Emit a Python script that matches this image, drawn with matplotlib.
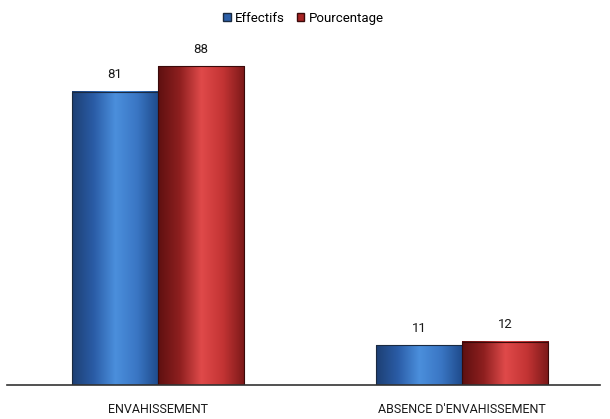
import numpy as np
import matplotlib
matplotlib.use("Agg")
import matplotlib.pyplot as plt
from matplotlib.colors import LinearSegmentedColormap
from matplotlib.patches import Patch

categories = ["ENVAHISSEMENT", "ABSENCE D'ENVAHISSEMENT"]
effectifs = [81, 11]
pourcentage = [88, 12]
series_names = ["Effectifs", "Pourcentage"]

plt.rcParams["font.family"] = ["Roboto", "DejaVu Sans"]

fig = plt.figure(figsize=(6.10, 4.19), dpi=100)
ax = fig.add_axes([7 / 610, 34 / 419, 593 / 610, 345 / 419])

x = np.arange(len(categories))
w = 0.283

blue_cmap = LinearSegmentedColormap.from_list(
    "cyl_blue", ["#1d3f73", "#2a5ca6", "#4b8fdc", "#3a76c4", "#1e4a8a"])
red_cmap = LinearSegmentedColormap.from_list(
    "cyl_red", ["#5e1010", "#8e1f1f", "#e04a4a", "#c33434", "#7a1818"])

bars_e = ax.bar(x - w / 2, effectifs, w, color="#3a76c4", edgecolor="#1a2a40",
                linewidth=0.8, label=series_names[0])
bars_p = ax.bar(x + w / 2, pourcentage, w, color="#c33434", edgecolor="#3a0a0a",
                linewidth=0.8, label=series_names[1])

grad = np.linspace(0, 1, 256).reshape(1, -1)
for bars, cmap in ((bars_e, blue_cmap), (bars_p, red_cmap)):
    for rect in bars:
        x0, y0 = rect.get_x(), rect.get_y()
        bw, bh = rect.get_width(), rect.get_height()
        ax.imshow(grad, cmap=cmap, aspect="auto",
                  extent=(x0, x0 + bw, y0, y0 + bh), zorder=rect.get_zorder(),
                  interpolation="bicubic")
        rect.set_facecolor("none")
        rect.set_zorder(rect.get_zorder() + 0.1)
        ax.text(x0 + bw / 2, y0 + bh + 2.9, f"{int(bh)}", ha="center", va="bottom",
                fontsize=9.5, color="#1a1a1a")

ax.set_xlim(-0.497, 1.454)
ax.set_ylim(0, 95.3)

ax.set_yticks([])
ax.set_xticks(x)
ax.set_xticklabels(categories, fontsize=9, color="#1a1a1a")
ax.tick_params(axis="x", length=0, pad=13)
for s in ("top", "right", "left"):
    ax.spines[s].set_visible(False)
ax.spines["bottom"].set_color("#333333")
ax.spines["bottom"].set_linewidth(1.2)

handles = [Patch(facecolor="#2c5fa8", edgecolor="#1a2a40"),
           Patch(facecolor="#a82424", edgecolor="#3a0a0a")]
fig.legend(handles, series_names, loc="upper center", bbox_to_anchor=(0.497, 1.0),
           ncol=2, frameon=False, fontsize=9.5, handlelength=0.6, handleheight=0.6,
           handletextpad=0.3, columnspacing=0.9)

fig.savefig("out.png", dpi=100, facecolor="white")
